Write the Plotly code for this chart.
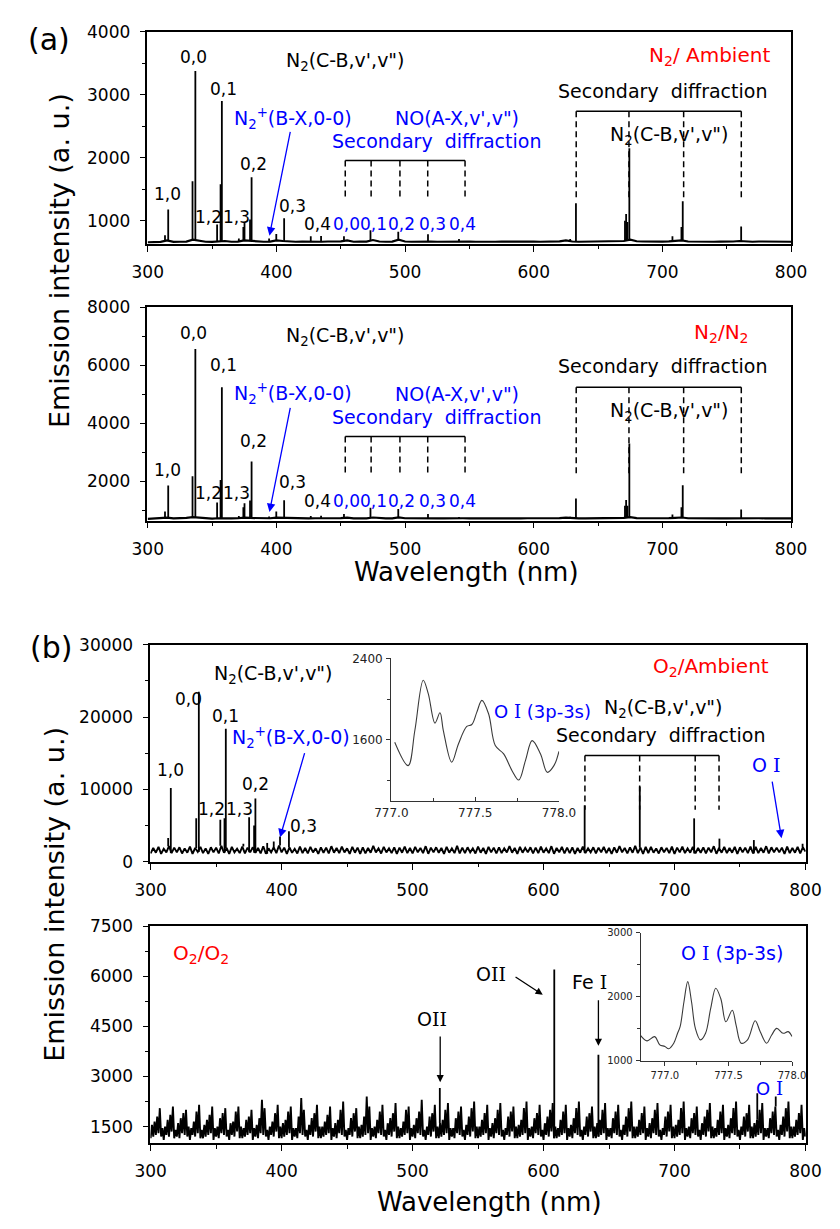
import plotly.graph_objects as go

W, H = 840, 1229
FONT = "DejaVu Sans"
SERIF = "DejaVu Serif"
BLUE = "#0000ff"
RED = "#ff0000"

# ---------------- (a) N2 / Ambient ----------------
wl_5nm = list(range(300, 801, 5))
base_n2_amb = [
    660, 662, 665, 690, 665, 668, 670, 700, 680, 668,
    665, 672, 680, 668, 670, 690, 680, 672, 668, 670,
    690, 680, 670, 668, 672, 668, 670, 668, 672, 670,
    675, 690, 668, 672, 670, 695, 672, 668, 670, 700,
    672, 668, 670, 680, 672, 668, 670, 675, 668, 672,
    670, 668, 672, 670, 668, 670, 672, 668, 670, 672,
    670, 668, 672, 670, 675, 690, 672, 668, 670, 672,
    668, 672, 670, 675, 680, 700, 676, 672, 668, 672,
    670, 675, 680, 690, 672, 668, 670, 672, 668, 670,
    668, 672, 680, 670, 668, 672, 670, 668, 672, 670,
    668,
]
lines_n2_amb_wl = [313.4, 315.9, 334.8, 337.0, 353.9, 356.6, 357.6, 370.8, 374.3, 375.2,
                   379.5, 380.7, 394.3, 399.9, 406.0, 426.7, 434.7, 452.5, 473.1, 494.7,
                   517.8, 541.9, 628.3, 632.8, 670.9, 671.8, 672.8, 674.3, 707.8, 714.8,
                   715.8, 761.2]
lines_n2_amb_int = [770, 1180, 1630, 3380, 940, 1580, 2900, 720, 900, 965,
                    1020, 1690, 720, 790, 1040, 755, 760, 755, 850, 825,
                    785, 710, 710, 1280, 1000, 1110, 980, 2150, 755, 900,
                    1310, 910]

# ---------------- (a) N2 / N2 ----------------
base_n2_n2 = [
    700, 705, 710, 740, 715, 720, 730, 760, 740, 715,
    710, 720, 730, 715, 720, 740, 730, 720, 715, 720,
    740, 730, 720, 715, 720, 715, 720, 715, 720, 718,
    725, 740, 715, 720, 718, 745, 720, 715, 718, 750,
    720, 715, 718, 730, 720, 715, 718, 725, 715, 720,
    718, 715, 720, 718, 715, 718, 720, 715, 718, 720,
    718, 715, 720, 718, 725, 740, 720, 715, 718, 720,
    715, 720, 718, 725, 735, 760, 725, 720, 715, 720,
    718, 725, 735, 745, 720, 715, 718, 720, 715, 718,
    715, 720, 730, 718, 715, 720, 718, 715, 720, 718,
    715,
]
lines_n2_n2_wl = lines_n2_amb_wl
lines_n2_n2_int = [950, 1850, 2170, 6560, 1260, 2040, 5240, 800, 1100, 1240,
                   1330, 2680, 780, 950, 1340, 800, 810, 870, 1080, 1040,
                   870, 760, 770, 1400, 1150, 1350, 1150, 3300, 850, 1100,
                   1860, 1020]

# ---------------- (b) O2 / Ambient ----------------
wl_2nm = list(range(300, 801, 2))
base_o2_amb = [
    1150, 1900, 1250, 2050, 1100, 1800, 1300, 2150, 1200, 1950,
    1300, 2000, 1150, 1850, 1250, 2100, 1100, 1900, 1350, 2050,
    1200, 1850, 1100, 2000, 1300, 1950, 1150, 2200, 1250, 1900,
    1100, 2050, 1300, 1800, 1200, 2100, 1150, 1950, 1300, 2000,
    1250, 1900, 1150, 2150, 1100, 1850, 1300, 2000, 1200, 2250,
    1300, 1950, 1100, 2000, 1250, 1800, 1150, 2100, 1200, 1900,
    1150, 2050, 1300, 1850, 1100, 2000, 1250, 1950, 1150, 2150,
    1250, 1900, 1200, 2100, 1300, 1850, 1100, 2050, 1250, 1950,
    1100, 2000, 1150, 1900, 1250, 2200, 1300, 1850, 1150, 2050,
    1300, 1850, 1200, 2000, 1100, 1950, 1250, 2100, 1200, 1900,
    1150, 2050, 1300, 1900, 1200, 2150, 1100, 1950, 1300, 2000,
    1250, 1900, 1100, 2050, 1250, 1850, 1200, 2200, 1150, 1950,
    1200, 2000, 1300, 1850, 1150, 2100, 1250, 1900, 1100, 2050,
    1300, 1950, 1150, 2000, 1200, 1850, 1300, 2150, 1250, 1900,
    1100, 2050, 1250, 1900, 1300, 2000, 1150, 1950, 1200, 2100,
    1250, 1850, 1200, 2150, 1100, 1900, 1300, 2050, 1150, 1950,
    1200, 2000, 1100, 1900, 1250, 2100, 1200, 1850, 1300, 2000,
    1150, 1950, 1300, 2050, 1200, 1900, 1100, 2000, 1250, 2150,
    1300, 1900, 1150, 2000, 1250, 2200, 1200, 1950, 1100, 2050,
    1200, 2050, 1250, 1850, 1150, 2000, 1300, 1900, 1200, 2100,
    1100, 1950, 1300, 2100, 1200, 1850, 1250, 2050, 1150, 1900,
    1250, 2000, 1150, 1950, 1300, 2150, 1100, 1900, 1250, 2050,
    1200, 1900, 1250, 2050, 1100, 2000, 1300, 1950, 1200, 2100,
    1150, 2050, 1200, 1900, 1250, 2150, 1150, 2000, 1300, 1950,
    1300, 1950, 1100, 2100, 1200, 1900, 1250, 2050, 1150, 2000,
    1400,
]
lines_o2_amb_wl = [313.4, 315.4, 334.8, 336.8, 353.2, 356.4, 357.4, 370.8, 375.2, 379.0,
                   380.0, 389.0, 394.0, 398.8, 405.6, 631.4, 673.5, 715.0, 734.3, 760.6,
                   797.8]
lines_o2_amb_int = [3300, 10200, 6000, 23500, 5800, 6000, 18400, 2500, 6150, 5000,
                    8750, 2600, 2800, 3500, 4200, 7800, 10400, 6000, 3200, 3000,
                    2500]

# O I (3p-3s) detail, O2 / Ambient
oi_amb_wl = [777.02, 777.10, 777.14, 777.19, 777.22, 777.26, 777.29, 777.31, 777.36, 777.40,
             777.45, 777.48, 777.51, 777.54, 777.58, 777.62, 777.67, 777.72, 777.76, 777.80,
             777.84, 777.89, 777.93, 777.97, 778.00]
oi_amb_int = [1577, 1347, 1692, 2186, 2054, 1765, 1866, 1692, 1380, 1560,
              1732, 1751, 1873, 1988, 1857, 1544, 1462, 1297, 1205, 1396,
              1593, 1462, 1281, 1347, 1488]

# ---------------- (b) O2 / O2 ----------------
wl_1nm = list(range(300, 801))
base_o2_o2 = [
    1150, 1550, 1200, 1650, 1250, 1800, 1300, 2050, 1200, 1450,
    1100, 1500, 1250, 1700, 1200, 1850, 1350, 2100, 1150, 1400,
    1200, 1600, 1150, 1750, 1300, 1900, 1250, 2000, 1200, 1500,
    1100, 1450, 1250, 1650, 1200, 1950, 1300, 2150, 1150, 1400,
    1150, 1550, 1200, 1700, 1250, 1850, 1300, 2100, 1100, 1450,
    1200, 1500, 1150, 1750, 1300, 1900, 1250, 2050, 1200, 1400,
    1100, 1600, 1250, 1650, 1200, 1950, 1350, 2100, 1150, 1500,
    1150, 1450, 1200, 1700, 1250, 1800, 1300, 2000, 1100, 1450,
    1200, 1550, 1150, 1750, 1300, 2300, 1250, 2050, 1200, 1400,
    1100, 1500, 1250, 1650, 1200, 1900, 1350, 2150, 1150, 1500,
    1150, 1600, 1200, 1700, 1250, 1950, 1300, 2100, 1100, 1450,
    1200, 1450, 1150, 1800, 1300, 2350, 1250, 2000, 1200, 1400,
    1100, 1550, 1250, 1750, 1200, 1900, 1350, 2150, 1150, 1500,
    1150, 1500, 1200, 1650, 1250, 1850, 1300, 2100, 1100, 1450,
    1200, 1600, 1150, 1700, 1300, 2000, 1250, 2250, 1200, 1400,
    1100, 1450, 1250, 1750, 1200, 1900, 1350, 2050, 1150, 1500,
    1150, 1550, 1200, 1800, 1250, 2400, 1300, 2100, 1100, 1450,
    1200, 1500, 1150, 1700, 1300, 1950, 1250, 2150, 1200, 1400,
    1100, 1600, 1250, 1750, 1200, 1900, 1350, 2200, 1150, 1500,
    1150, 1450, 1200, 1650, 1250, 2000, 1300, 2100, 1100, 1450,
    1200, 1550, 1150, 1750, 1300, 1950, 1250, 2300, 1200, 1400,
    1100, 1500, 1250, 1800, 1200, 1900, 1350, 2150, 1150, 1500,
    1150, 1600, 1200, 1700, 1250, 2000, 1300, 2200, 1100, 1450,
    1200, 1450, 1150, 1750, 1300, 1950, 1250, 2100, 1200, 1400,
    1100, 1550, 1250, 1800, 1200, 2050, 1350, 2250, 1150, 1500,
    1150, 1500, 1200, 1700, 1250, 1900, 1300, 2150, 1100, 1450,
    1200, 1600, 1150, 1750, 1300, 2000, 1250, 2200, 1200, 1400,
    1100, 1450, 1250, 1800, 1200, 1950, 1350, 2100, 1150, 1500,
    1150, 1550, 1200, 1700, 1250, 2050, 1300, 2250, 1100, 1450,
    1200, 1500, 1150, 1750, 1300, 1900, 1250, 2150, 1200, 1400,
    1100, 1600, 1250, 1800, 1200, 2000, 1350, 2200, 1150, 1500,
    1150, 1450, 1200, 1700, 1250, 1950, 1300, 2150, 1100, 1450,
    1200, 1550, 1150, 1750, 1300, 2050, 1250, 2250, 1200, 1400,
    1100, 1500, 1250, 1800, 1200, 1900, 1350, 2100, 1150, 1500,
    1150, 1600, 1200, 1700, 1250, 2000, 1300, 2200, 1100, 1450,
    1200, 1450, 1150, 1750, 1300, 1950, 1250, 2150, 1200, 1400,
    1100, 1550, 1250, 1800, 1200, 2050, 1350, 2250, 1150, 1500,
    1150, 1500, 1200, 1700, 1250, 1900, 1300, 2100, 1100, 1450,
    1200, 1600, 1150, 1750, 1300, 2000, 1250, 2200, 1200, 1400,
    1100, 1450, 1250, 1800, 1200, 1950, 1350, 2150, 1150, 1500,
    1150, 1550, 1200, 1700, 1250, 2050, 1300, 2250, 1100, 1450,
    1200, 1500, 1150, 1750, 1300, 1900, 1250, 2100, 1200, 1400,
    1100, 1600, 1250, 1800, 1200, 2000, 1350, 2200, 1150, 1500,
    1150, 1450, 1200, 1700, 1250, 1950, 1300, 2150, 1100, 1450,
    1200, 1550, 1150, 1750, 1300, 2050, 1250, 2250, 1200, 1400,
    1100, 1500, 1250, 1800, 1200, 1900, 1350, 2150, 1150, 1500,
    1150, 1600, 1200, 1700, 1250, 2000, 1300, 2200, 1100, 1450,
    1200, 1450, 1150, 1750, 1300, 1950, 1250, 2100, 1200, 1400,
    1100, 1550, 1250, 1800, 1200, 2050, 1350, 2250, 1150, 1500,
    1150, 1500, 1200, 1700, 1250, 1900, 1300, 2150, 1100, 1450,
    1200,
]
lines_o2_o2_wl = [520.8, 608.2, 641.9, 763.2, 777.3]
lines_o2_o2_int = [2650, 6200, 3650, 2500, 2400]

# O I (3p-3s) detail, O2 / O2
oi_o2_wl = [776.81, 776.86, 776.92, 776.96, 777.00, 777.03, 777.07, 777.10, 777.12, 777.15,
            777.18, 777.21, 777.24, 777.28, 777.32, 777.36, 777.40, 777.44, 777.48, 777.53,
            777.56, 777.60, 777.65, 777.71, 777.75, 777.80, 777.84, 777.88, 777.93, 777.97,
            778.00]
oi_o2_int = [1392, 1309, 1376, 1247, 1222, 1186, 1273, 1428, 1531, 1918,
             2237, 1918, 1505, 1325, 1428, 1814, 2134, 1969, 1608, 1789,
             1557, 1273, 1325, 1624, 1454, 1273, 1402, 1505, 1428, 1454,
             1376]

# bracket positions (nm) for second-order diffraction markers
no_bracket_wl = [453.5, 473.6, 496.0, 517.6, 546.6]
n2_bracket_wl = [633.0, 674.0, 716.5, 761.3]
o2_bracket_wl = [631.6, 673.4, 715.8, 734.0]


def spikes(grid, base, wl, val):
    """Vertical emission lines rising from the sampled background."""
    xs, ys = [], []
    step = grid[1] - grid[0]
    for w, v in zip(wl, val):
        i = int(round((w - grid[0]) / step))
        xs += [w, w, None]
        ys += [base[i], v, None]
    return xs, ys


def dom_x(a, b):
    return [a / W, b / W]


def dom_y(top, bottom):
    return [1 - bottom / H, 1 - top / H]


fig = go.Figure()

panels = [
    ("x", "y", wl_5nm, base_n2_amb, lines_n2_amb_wl, lines_n2_amb_int, 2.2),
    ("x2", "y2", wl_5nm, base_n2_n2, lines_n2_n2_wl, lines_n2_n2_int, 2.2),
    ("x3", "y3", wl_2nm, base_o2_amb, lines_o2_amb_wl, lines_o2_amb_int, 1.9),
    ("x4", "y4", wl_1nm, base_o2_o2, lines_o2_o2_wl, lines_o2_o2_int, 1.9),
]
for xa, ya, grid, base, lw, li, bw in panels:
    fig.add_trace(go.Scatter(x=grid, y=base, mode="lines", xaxis=xa, yaxis=ya,
                             line=dict(color="black", width=bw), showlegend=False))
    sx, sy = spikes(grid, base, lw, li)
    fig.add_trace(go.Scatter(x=sx, y=sy, mode="lines", xaxis=xa, yaxis=ya,
                             line=dict(color="black", width=1.8), showlegend=False))

fig.add_trace(go.Scatter(x=oi_amb_wl, y=oi_amb_int, mode="lines", xaxis="x5", yaxis="y5",
                         line=dict(color="#3a3a3a", width=1.1, shape="spline"), showlegend=False))
fig.add_trace(go.Scatter(x=oi_o2_wl, y=oi_o2_int, mode="lines", xaxis="x6", yaxis="y6",
                         line=dict(color="#3a3a3a", width=1.1, shape="spline"), showlegend=False))


def main_axis(domain, anchor, rng, dtick, minor, **kw):
    d = dict(domain=domain, anchor=anchor, range=rng, dtick=dtick, tick0=0,
             showline=True, mirror=True, linecolor="black", linewidth=1.6,
             ticks="outside", ticklen=6, tickwidth=1.3, tickcolor="black",
             showgrid=False, zeroline=False, ticklabelstandoff=6, tickformat="d",
             tickfont=dict(family=FONT, size=17, color="black"),
             minor=dict(ticks="outside", ticklen=3.5, tickwidth=1.2, tickcolor="black",
                        dtick=minor, tick0=0))
    d.update(kw)
    return d


def inset_axis(domain, anchor, rng, dtick, minor, tick0, size, ticks, fmt=None):
    d = dict(domain=domain, anchor=anchor, range=rng, dtick=dtick, tick0=tick0,
             showline=True, mirror=False, linecolor="#333333", linewidth=1.1,
             ticks=ticks, ticklen=4, tickwidth=1, tickcolor="#333333",
             showgrid=False, zeroline=False, ticklabelstandoff=1,
             tickfont=dict(family=FONT, size=size, color="#222222"),
             minor=dict(ticks=ticks, ticklen=3, tickwidth=1, tickcolor="#333333",
                        dtick=minor, tick0=tick0))
    if fmt:
        d["tickformat"] = fmt
    return d


XR = [299.8, 800.2]
fig.update_layout(
    width=W, height=H, margin=dict(l=0, r=0, t=0, b=0),
    paper_bgcolor="white", plot_bgcolor="rgba(0,0,0,0)",
    xaxis=main_axis(dom_x(136, 807), "y", XR, 100, 50),
    yaxis=main_axis(dom_y(22, 238), "x", [630, 4003], 1000, 500),
    xaxis2=main_axis(dom_x(136, 807), "y2", XR, 100, 50),
    yaxis2=main_axis(dom_y(302, 519), "x2", [640, 8006], 2000, 1000),
    xaxis3=main_axis(dom_x(139, 822), "y3", XR, 100, 50),
    yaxis3=main_axis(dom_y(645, 866), "x3", [-20, 30030], 10000, 5000),
    xaxis4=main_axis(dom_x(139, 822), "y4", XR, 100, 50),
    yaxis4=main_axis(dom_y(931, 1152), "x4", [1000, 7506], 1500, 750),
    xaxis5=inset_axis(dom_x(390, 565), "y5", [776.999, 778.001], 0.5, 0.25, 777, 12, "inside", ".1f"),
    yaxis5=inset_axis(dom_y(659, 804), "x5", [1000, 2402], 800, 400, 0, 12, "outside"),
    xaxis6=inset_axis(dom_x(650, 808), "y6", [776.81, 778.002], 0.5, 0.25, 777, 10, "outside", ".1f"),
    yaxis6=inset_axis(dom_y(938, 1068), "x6", [1000, 3003], 1000, 500, 0, 10, "outside"),
)

ann = []


def label(text, x, f, xr, yr, size=17, color="black", **kw):
    d = dict(text=text, x=x, y=f, xref=xr, yref=yr + " domain", showarrow=False,
             font=dict(family=FONT, size=size, color=color),
             xanchor="center", yanchor="middle")
    d.update(kw)
    ann.append(d)


def arrow(x, f, ax, af, xr, yr, color, head=2, size=1.3):
    ann.append(dict(text="", x=x, y=f, ax=ax, ay=af, xref=xr, yref=yr + " domain",
                    axref=xr, ayref=yr + " domain", showarrow=True, arrowhead=head,
                    arrowsize=size, arrowwidth=1.3, arrowcolor=color, standoff=0))


def paper_label(text, px, py, size, angle=0):
    ann.append(dict(text=text, x=px / W, y=1 - py / H, xref="paper", yref="paper",
                    showarrow=False, textangle=angle, xanchor="center", yanchor="middle",
                    font=dict(family=FONT, size=size, color="black")))


shapes = []


def bracket(wls, f_top, f_bot, xr, yr):
    shapes.append(dict(type="line", xref=xr, yref=yr + " domain", x0=wls[0], x1=wls[-1],
                       y0=f_top, y1=f_top, line=dict(color="black", width=1.5)))
    for w in wls:
        shapes.append(dict(type="line", xref=xr, yref=yr + " domain", x0=w, x1=w,
                           y0=f_top, y1=f_bot,
                           line=dict(color="black", width=1.5, dash="6px,4px")))


OI = "O <span style='font-family:%s'>I</span>" % SERIF
OII = "O<span style='font-family:%s'>II</span>" % SERIF
N2CB = "N<sub>2</sub>(C-B,v',v\")"
N2P = "N<sub>2</sub><sup>+</sup>(B-X,0-0)"
SEC = "Secondary  diffraction"

# ---- (a) annotations, shared between the two N2 panels
for xr, yr in [("x", "y"), ("x2", "y2")]:
    for t, x, f in [("1,0", 315.6, 0.236), ("0,0", 335.8, 0.880), ("0,1", 358.9, 0.731),
                    ("1,2", 346.9, 0.130), ("1,3", 369.3, 0.130), ("0,2", 382.0, 0.375),
                    ("0,3", 412.5, 0.181), ("0,4", 431.9, 0.093)]:
        label(t, x, f, xr, yr)
    for t, x in zip(["0,0", "0,1", "0,2", "0,3", "0,4"], [454.1, 475.8, 497.5, 521.3, 544.8]):
        label(t, x, 0.093, xr, yr, color=BLUE)
    label(N2CB, 453.5, 0.861, xr, yr, size=19)
    label(N2P, 412.5, 0.593, xr, yr, size=19, color=BLUE)
    label("NO(A-X,v',v\")", 540.0, 0.593, xr, yr, size=19, color=BLUE)
    label(SEC, 524.7, 0.486, xr, yr, size=19, color=BLUE)
    label(SEC, 699.8, 0.722, xr, yr, size=19)
    label(N2CB, 705.4, 0.509, xr, yr, size=19)
    arrow(394.6, 0.040, 411.0, 0.535, xr, yr, BLUE)
    bracket(no_bracket_wl, 0.394, 0.208, xr, yr)
    bracket(n2_bracket_wl, 0.625, 0.208, xr, yr)
label("N<sub>2</sub>/ Ambient", 736.7, 0.884, "x", "y", size=20, color=RED)
label("N<sub>2</sub>/N<sub>2</sub>", 746.3, 0.880, "x2", "y2", size=20, color=RED)

# ---- (b) O2 / Ambient
for t, x, f in [("1,0", 315.4, 0.425), ("0,0", 328.6, 0.751), ("0,1", 357.1, 0.670),
                ("1,2", 346.1, 0.244), ("1,3", 368.1, 0.244), ("0,2", 379.8, 0.357),
                ("0,3", 417.1, 0.167)]:
    label(t, x, f, "x3", "y3")
label(N2CB, 393.7, 0.864, "x3", "y3", size=19)
label(N2P, 406.9, 0.570, "x3", "y3", size=19, color=BLUE)
arrow(398.8, 0.113, 417.9, 0.507, "x3", "y3", BLUE)
label("O<sub>2</sub>/Ambient", 727.5, 0.896, "x3", "y3", size=20, color=RED)
label(OI + " (3p-3s)", 599.4, 0.692, "x3", "y3", size=18, color=BLUE)
label(N2CB, 691.7, 0.706, "x3", "y3", size=19)
label(SEC, 689.5, 0.584, "x3", "y3", size=19)
bracket(o2_bracket_wl, 0.489, 0.240, "x3", "y3")
label(OI, 770.0, 0.448, "x3", "y3", size=19, color=BLUE)
arrow(781.7, 0.109, 774.4, 0.376, "x3", "y3", BLUE)

# ---- (b) O2 / O2
label("O<sub>2</sub>/O<sub>2</sub>", 338.1, 0.869, "x4", "y4", size=20, color=RED)
label(OII, 515.2, 0.570, "x4", "y4", size=19)
arrow(521.1, 0.281, 521.1, 0.498, "x4", "y4", "black", head=2, size=1.1)
label(OII, 559.9, 0.778, "x4", "y4", size=19)
arrow(599.4, 0.683, 577.5, 0.769, "x4", "y4", "black", head=2, size=1.1)
label("Fe <span style='font-family:%s'>I</span>" % SERIF, 635.3, 0.742, "x4", "y4", size=19)
arrow(641.9, 0.448, 641.9, 0.665, "x4", "y4", "black", head=2, size=1.1)
label(OI + " (3p-3s)", 743.6, 0.873, "x4", "y4", size=19, color=BLUE)
label(OI, 772.5, 0.25, "x4", "y4", size=18, color=BLUE)

# ---- panel tags and axis titles
paper_label("(a)", 33, 30, 30)
paper_label("(b)", 35, 648, 30)
paper_label("Emission intensity (a. u.)", 45, 255, 27, -90)
paper_label("Emission intensity (a. u.)", 39, 899, 27, -90)
paper_label("Wavelength (nm)", 468, 571, 26)
paper_label("Wavelength (nm)", 492, 1212, 26)

fig.update_layout(annotations=ann, shapes=shapes)
fig.write_html("out.html")
